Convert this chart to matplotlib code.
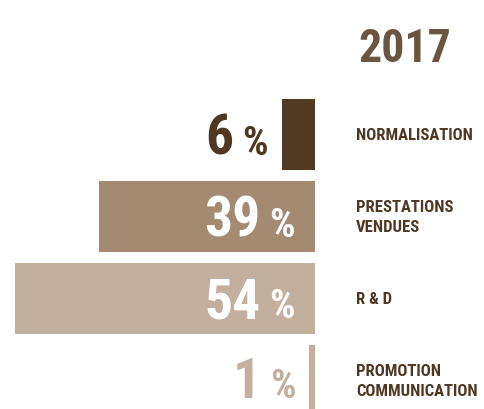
import matplotlib
matplotlib.use("Agg")
import matplotlib.pyplot as plt
from matplotlib import font_manager

# ---- data ----
year = "2017"
categories = ["NORMALISATION", "PRESTATIONS\nVENDUES", "R & D", "PROMOTION\nCOMMUNICATION"]
values = [6, 39, 54, 1]
bar_colors = ["#533A22", "#A38A70", "#C2AF9E", "#C2AF9E"]

# ---- font choice ----
available = {f.name for f in font_manager.fontManager.ttflist}
fam = "DejaVu Sans"
for cand in ["Liberation Sans Narrow", "DejaVu Sans Condensed", "Roboto Condensed", "Open Sans Condensed"]:
    if cand in available:
        fam = cand
        break
stretch = "condensed" if fam == "DejaVu Sans" else "normal"

W, H = 484, 409
fig = plt.figure(figsize=(W / 100, H / 100), dpi=100)
ax = fig.add_axes([0, 0, 1, 1])
ax.axis("off")

px_per_pct = 5.55
right_px = 315
spacing = 82.0
first_center = 134.5
ax.set_xlim(-right_px / px_per_pct, (W - right_px) / px_per_pct)
ax.set_ylim((H - first_center) / spacing, -first_center / spacing)

ypos = list(range(len(values)))
ax.barh(ypos, [-v for v in values], left=0, height=0.86, color=bar_colors)

renderer = fig.canvas.get_renderer()
for i, v in enumerate(values):
    inside = v >= 10
    if inside:
        anchor_x = 0
        dx = -20
        col = "white"
    else:
        anchor_x = -v
        dx = -14
        col = "#4E3822" if i == 0 else bar_colors[i]
    base = -20 if i < len(values) - 1 else -17
    pct = ax.annotate("%", xy=(anchor_x, i), xytext=(dx, base), textcoords="offset pixels",
                      ha="right", va="baseline", fontsize=29, color=col,
                      family=fam, fontweight="bold", fontstretch=stretch)
    bb = pct.get_window_extent(renderer)
    ax.annotate(str(v), xy=(anchor_x, i), xytext=(dx - bb.width - 9, base), textcoords="offset pixels",
                ha="right", va="baseline", fontsize=40, color=col,
                family=fam, fontweight="bold", fontstretch=stretch)
    ax.annotate(categories[i], xy=(0, i), xytext=(41, -1), textcoords="offset pixels",
                ha="left", va="center", fontsize=12, color="#4E3822",
                family=fam, fontweight="bold", fontstretch=stretch, linespacing=1.4)

fig.text(358 / W, 1 - 62 / H, year, ha="left", va="baseline", fontsize=33,
         color="#6B5540", family=fam, fontweight="bold", fontstretch=stretch)

fig.savefig("out.png", dpi=100)
